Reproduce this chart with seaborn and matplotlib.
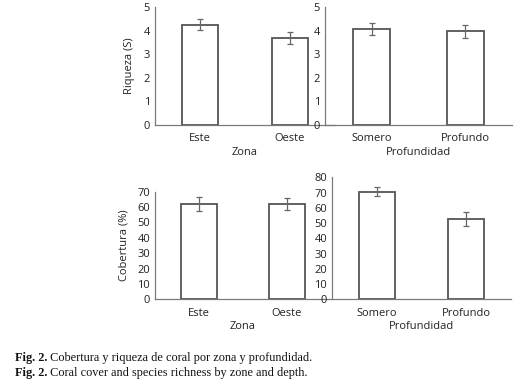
import matplotlib
matplotlib.use("Agg")
import matplotlib.pyplot as plt
import seaborn as sns

# data
zonas = ["Este", "Oeste"]
profundidades = ["Somero", "Profundo"]

riqueza_zona = [4.25, 3.70]
riqueza_zona_err = [0.24, 0.25]
riqueza_prof = [4.08, 3.97]
riqueza_prof_err = [0.25, 0.28]

cobertura_zona = [62.0, 62.0]
cobertura_zona_err = [4.4, 4.0]
cobertura_prof = [70.5, 52.7]
cobertura_prof_err = [2.9, 4.7]

sns.set_style("white")
plt.rcParams["font.family"] = ["Open Sans", "DejaVu Sans"]

W, H = 522, 389
fig = plt.figure(figsize=(W / 100, H / 100), dpi=100)
fig.patch.set_facecolor("white")

AX_COL = "#7a7a7a"
BAR_EDGE = "#555555"


def px_axes(x0, x1, ytop, ybot):
    return fig.add_axes([x0 / W, (H - ybot) / H, (x1 - x0) / W, (ybot - ytop) / H])


def panel(ax, cats, vals, errs, ymax, ystep, xlabel, ylabel=None):
    ax.set_facecolor("none")
    sns.barplot(x=cats, y=vals, ax=ax, color="white", edgecolor=BAR_EDGE,
                linewidth=1.3, width=0.4, errorbar=None)
    ax.errorbar(range(len(cats)), vals, yerr=errs, fmt="none", ecolor="#666666",
                elinewidth=0.9, capsize=2.5, capthick=0.9)
    ax.set_xlim(-0.5, len(cats) - 0.5)
    ax.set_ylim(0, ymax)
    ax.set_yticks(range(0, ymax + 1, ystep))
    ax.set_xticks([0.5], minor=True)
    sns.despine(ax=ax)
    for s in ["left", "bottom"]:
        ax.spines[s].set_color(AX_COL)
        ax.spines[s].set_linewidth(0.9)
    ax.tick_params(axis="x", which="major", length=0, labelsize=8, pad=6, labelcolor="#222222")
    ax.tick_params(axis="x", which="minor", length=3, color=AX_COL, direction="out", width=0.8)
    ax.tick_params(axis="y", length=2.5, color=AX_COL, direction="out", width=0.8,
                   labelsize=8, pad=1, labelcolor="#222222")
    ax.set_xlabel(xlabel, fontsize=8, labelpad=2, color="#222222")
    if ylabel:
        ax.set_ylabel(ylabel, fontsize=8, labelpad=6, color="#222222")
    else:
        ax.set_ylabel("")


ax1 = px_axes(155, 335, 7, 125)
panel(ax1, zonas, riqueza_zona, riqueza_zona_err, 5, 1, "Zona", "Riqueza (S)")
ax2 = px_axes(325, 512, 7, 125)
panel(ax2, profundidades, riqueza_prof, riqueza_prof_err, 5, 1, "Profundidad")
ax3 = px_axes(155, 331, 191.7, 299.3)
panel(ax3, zonas, cobertura_zona, cobertura_zona_err, 70, 10, "Zona", "Cobertura (%)")
ax4 = px_axes(332, 511, 177.3, 299.3)
panel(ax4, profundidades, cobertura_prof, cobertura_prof_err, 80, 10, "Profundidad")

serif = ["Liberation Serif", "DejaVu Serif"]
captions = [
    "Cobertura y riqueza de coral por zona y profundidad.",
    "Coral cover and species richness by zone and depth.",
]
for i, cap in enumerate(captions):
    y = 1 - (358 + i * 15) / H
    t = fig.text(15 / W, y, "Fig. 2.", family=serif, fontsize=8.8, fontweight="bold",
                 va="center", ha="left", color="#111111")
    # caption text continues right after the bold label
    plt.annotate(" " + cap, xy=(1, 0.5), xycoords=t, va="center", ha="left",
                 family=serif, fontsize=8.8, color="#111111")

fig.savefig("out.png", dpi=100)
